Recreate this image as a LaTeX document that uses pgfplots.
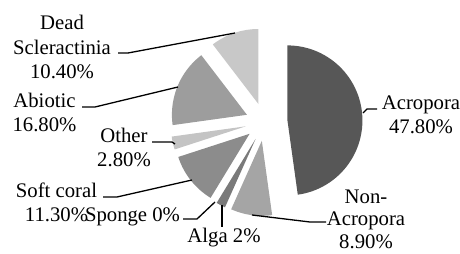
\documentclass[border=0pt]{standalone}
\usepackage{pgfplots}
\usepackage{pgfplotstable}
\pgfplotsset{compat=1.18}
\usepackage{fontspec}
\setmainfont{Liberation Serif}

\definecolor{cAcro}{HTML}{575757}
\definecolor{cNonA}{HTML}{A5A5A5}
\definecolor{cAlga}{HTML}{7A7A7A}
\definecolor{cSpon}{HTML}{6E6E6E}
\definecolor{cSoft}{HTML}{8C8C8C}
\definecolor{cOther}{HTML}{C4C4C4}
\definecolor{cAbio}{HTML}{9D9D9D}
\definecolor{cDead}{HTML}{C8C8C8}

\tikzset{lbl/.style={font=\fontsize{20.8}{24.5}\selectfont, inner sep=0pt, align=center}}

% share (%), explosion (px), colour
\pgfplotstableread[col sep=comma]{
name,val,ex,col
Acropora,47.8,23,cAcro
NonAcropora,8.9,19,cNonA
Alga,2,19,cAlga
Sponge,0,19,cSpon
SoftCoral,11.3,19,cSoft
Other,2.8,19,cOther
Abiotic,16.8,19,cAbio
DeadScleractinia,10.4,19,cDead
}\pietable

\begin{document}
\begin{tikzpicture}
\useasboundingbox (0,0) rectangle (460bp,254bp);
\clip (0,0) rectangle (460bp,254bp);
\begin{axis}[
  at={(0,0)}, anchor=south west,
  scale only axis, width=460bp, height=254bp,
  xmin=0, xmax=460, ymin=0, ymax=254,
  hide axis, clip=false,
]
\pgfmathsetmacro{\cum}{0}
\pgfplotsforeachungrouped \i in {0,...,7}{%
  \pgfplotstablegetelem{\i}{val}\of{\pietable}\let\sval\pgfplotsretval
  \pgfplotstablegetelem{\i}{ex}\of{\pietable}\let\sex\pgfplotsretval
  \pgfplotstablegetelem{\i}{col}\of{\pietable}\let\scol\pgfplotsretval
  \pgfmathsetmacro{\aone}{90-3.6*\cum}%
  \pgfmathsetmacro{\atwo}{90-3.6*(\cum+\sval)}%
  \pgfmathsetmacro{\amid}{(\aone+\atwo)/2}%
  \pgfmathsetmacro{\apx}{264.5+\sex*cos(\amid)}%
  \pgfmathsetmacro{\apy}{132+\sex*sin(\amid)}%
  \ifdim\sval pt>0pt
    \edef\doslice{\noexpand\addplot[fill=\scol, draw=none, domain=\atwo:\aone, samples=60]
      ({\apx+75*cos(x)}, {\apy+75*sin(x)}) -- (axis cs:\apx,\apy) -- cycle;}%
    \doslice
  \fi
  \pgfmathsetmacro{\cum}{\cum+\sval}%
}

% leader lines
\draw[black, line width=1.3pt] (axis cs:118,201) -- (axis cs:128,201) -- (axis cs:235,221);
\draw[black, line width=1.3pt] (axis cs:82,147) -- (axis cs:95,147) -- (axis cs:178,167);
\draw[black, line width=1.3pt] (axis cs:152,112) -- (axis cs:172,112) -- (axis cs:175,110);
\draw[black, line width=1.3pt] (axis cs:103,57) -- (axis cs:117,57) -- (axis cs:192,74);
\draw[black, line width=1.3pt] (axis cs:183,35) -- (axis cs:197,35) -- (axis cs:215,52);
\draw[black, line width=1.3pt] (axis cs:222,49) -- (axis cs:222,27);
\draw[black, line width=1.3pt] (axis cs:252,39) -- (axis cs:310,32) -- (axis cs:326,32);
\draw[black, line width=1.3pt] (axis cs:363,141) -- (axis cs:367,145) -- (axis cs:377,145);

% labels
\node[lbl] at (axis cs:62,207) {Dead\\Scleractinia\\10.40\%};
\node[lbl] at (axis cs:44.5,141.5) {Abiotic\\16.80\%};
\node[lbl] at (axis cs:124,106.5) {Other\\2.80\%};
\node[lbl] at (axis cs:56.5,51.5) {Soft coral\\11.30\%};
\node[lbl] at (axis cs:132.5,37) {Sponge 0\%};
\node[lbl] at (axis cs:224,16) {Alga 2\%};
\node[lbl, font=\fontsize{20.8}{22.5}\selectfont] at (axis cs:366,35) {Non-\\Acropora\\8.90\%};
\node[lbl] at (axis cs:421,139) {Acropora\\47.80\%};
\end{axis}
\end{tikzpicture}
\end{document}
